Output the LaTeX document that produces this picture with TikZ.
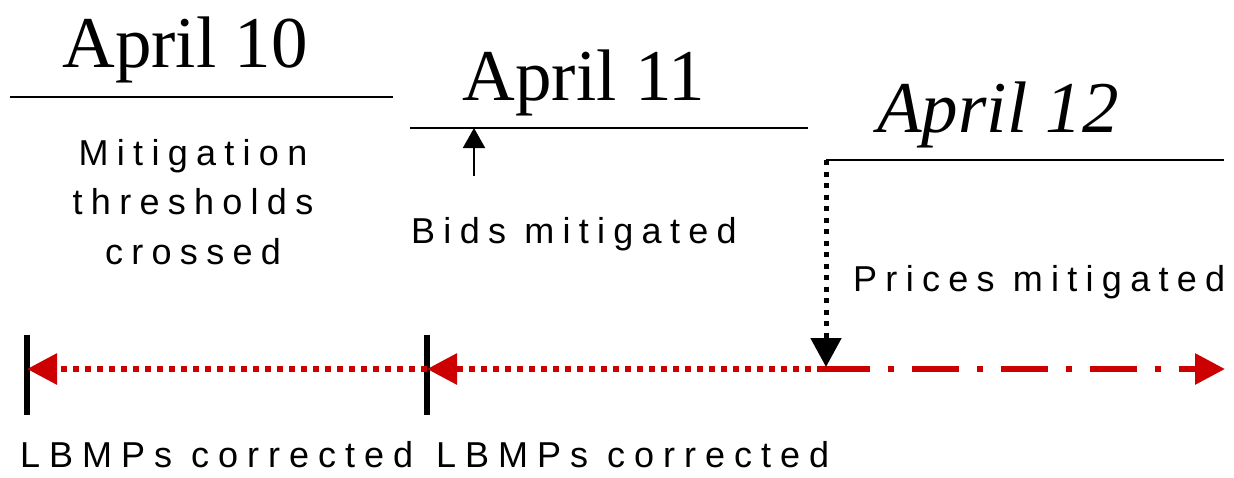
\documentclass[tikz,border=0pt]{standalone}
\usepackage{fontspec}
\setmainfont{Liberation Serif}
\newfontfamily\lblfont[LetterSpace=23]{Liberation Sans}
\newfontfamily\widelblfont[LetterSpace=25]{Liberation Sans}
\usetikzlibrary{arrows.meta}
\definecolor{corrred}{RGB}{204,0,0}
\tikzset{
  datetxt/.style={font=\fontsize{73}{80}\selectfont, inner sep=0pt, anchor=base},
  lbl/.style={font=\lblfont\fontsize{36}{49.5}\selectfont, inner sep=0pt},
  widelbl/.style={font=\widelblfont\fontsize{36}{49.5}\selectfont, inner sep=0pt},
  dayline/.style={line width=2pt},
  tickmark/.style={line width=5.5pt},
  redhead/.style={-{Triangle[length=30pt,width=30pt]}},
  corrline/.style={corrred, line width=6pt, dash pattern=on 6pt off 6pt, redhead},
  fwdline/.style={corrred, line width=6pt, dash pattern=on 47pt off 18pt on 6pt off 18pt, redhead},
  dropline/.style={black, line width=5pt, dash pattern=on 5pt off 6.5pt, -{Triangle[length=29pt,width=30pt]}},
  bidarrow/.style={line width=2pt, -{Triangle[length=20pt,width=22pt]}},
}
\begin{document}
\begin{tikzpicture}[x=1pt,y=-1pt]
\useasboundingbox (0,0) rectangle (1234,477);

% day headings and their underlines
\node[datetxt] (d10) at (185,67) {April 10};
\node[datetxt] (d11) at (584,100) {April 11};
\node[datetxt, font=\fontsize{73}{80}\selectfont\itshape] (d12) at (998,132) {April 12};
\coordinate (l10a) at (10,97);   \coordinate (l10b) at (393,97);
\coordinate (l11a) at (410,128); \coordinate (l11b) at (808,128);
\coordinate (l12a) at (826,160); \coordinate (l12b) at (1224,160);
\draw[dayline] (l10a) -- (l10b);
\draw[dayline] (l11a) -- (l11b);
\draw[dayline] (l12a) -- (l12b);

% event labels
\node[lbl, align=center, anchor=base] (thr) at (193,264) {Mitigation\\thresholds\\crossed};
\node[lbl, anchor=base west] (bids) at (411,243) {Bids mitigated};
\node[lbl, anchor=base west] (prices) at (853,291) {Prices mitigated};
\node[widelbl, anchor=base west] (corr1) at (20,467) {LBMPs corrected};
\node[widelbl, anchor=base west] (corr2) at (436,467) {LBMPs corrected};

% bids mitigated arrow
\coordinate (bidfoot) at (474,176);
\coordinate (bidtip) at (474,128);
\draw[bidarrow] (bidfoot) -- (bidtip);

% time axis
\coordinate (t10) at (27,369);
\coordinate (t11) at (427,369);
\coordinate (t12) at (823,369);
\coordinate (tend) at (1225,369);
\coordinate (k10a) at (27,335);  \coordinate (k10b) at (27,415);
\coordinate (k11a) at (427,335); \coordinate (k11b) at (427,415);
\draw[tickmark] (k10a) -- (k10b);
\draw[tickmark] (k11a) -- (k11b);
\draw[corrline] (t12) -- (t11);
\draw[corrline] (t11) -- (t10);
\draw[fwdline] (t12) -- (tend);

% price mitigation drop
\coordinate (droptop) at (826,160);
\coordinate (droptip) at (826,367);
\draw[dropline] (droptop) -- (droptip);
\end{tikzpicture}
\end{document}
